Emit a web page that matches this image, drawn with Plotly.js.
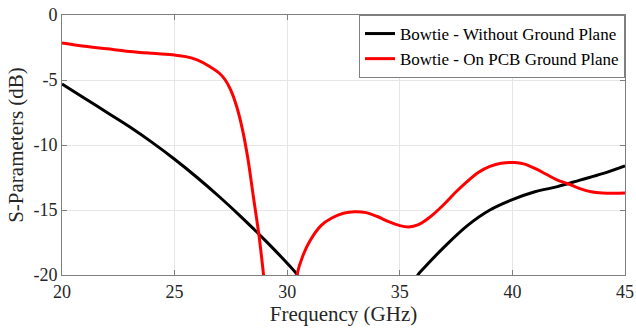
<!DOCTYPE html>
<html>
<head>
<meta charset="utf-8">
<script src="https://cdn.plot.ly/plotly-3.0.1.min.js"></script>
<style>
html,body{margin:0;padding:0;background:#fff;}
#chart{width:636px;height:329px;}
</style>
</head>
<body>
<div id="chart"></div>
<script>
// Bowtie - Without Ground Plane
const freqBlack = [20, 21, 22, 23, 24, 25, 26, 27, 28, 29, 30, 30.45, 31, 32, 33, 34, 35, 35.8, 36, 37, 38, 39, 40, 41, 42, 43, 44, 45];
const s11Black  = [-5.3, -6.4, -7.5, -8.6, -9.8, -11.1, -12.5, -14.0, -15.6, -17.3, -19.1, -20, -22, -27, -32, -28, -23, -20, -19.6, -17.8, -16.2, -15.0, -14.2, -13.6, -13.2, -12.7, -12.2, -11.6];

// Bowtie - On PCB Ground Plane
const freqRed = [20, 21, 22, 23, 24, 25, 25.5, 26, 26.5, 27, 27.25, 27.5, 27.75, 28, 28.25, 28.5, 28.75, 28.95, 29.3, 29.7, 30.1, 30.43, 30.7, 31, 31.5, 32, 32.5, 33, 33.5, 34, 34.5, 35, 35.4, 35.8, 36.3, 37, 37.5, 38, 38.5, 39, 39.5, 40.1, 40.5, 41, 41.5, 42, 42.5, 43, 43.5, 44, 44.5, 45];
const s11Red  = [-2.15, -2.4, -2.6, -2.8, -2.95, -3.08, -3.2, -3.45, -3.9, -4.5, -5.0, -5.8, -7.0, -8.7, -11.0, -14.0, -17.0, -20, -26, -30, -25, -20, -18.5, -17.4, -16.2, -15.6, -15.25, -15.13, -15.2, -15.5, -15.9, -16.2, -16.3, -16.15, -15.6, -14.5, -13.6, -12.8, -12.1, -11.65, -11.4, -11.35, -11.45, -11.8, -12.25, -12.7, -13.0, -13.35, -13.6, -13.7, -13.72, -13.7];

const seriesNames = ['Bowtie - Without Ground Plane', 'Bowtie - On PCB Ground Plane'];
const xTicks = [20, 25, 30, 35, 40, 45];
const yTicks = [-20, -15, -10, -5, 0];

const FONT_FAMILY = 'Liberation Serif';

const traces = [
  {x: freqBlack, y: s11Black, name: seriesNames[0], mode: 'lines', line: {color: '#000000', width: 3, shape: 'spline', smoothing: 1}},
  {x: freqRed, y: s11Red, name: seriesNames[1], mode: 'lines', line: {color: '#ff0000', width: 3, shape: 'spline', smoothing: 1}}
];

const axisCommon = {
  showline: true, mirror: 'ticks', linecolor: '#7f7f7f', linewidth: 1,
  ticks: 'inside', ticklen: 5, tickcolor: '#7f7f7f',
  showgrid: true, gridcolor: '#e6e6e6', gridwidth: 1,
  zeroline: false,
  tickfont: {family: FONT_FAMILY, size: 18, color: '#262626'}
};

const layout = {
  width: 636, height: 329,
  margin: {l: 62, r: 11, t: 15, b: 54},
  paper_bgcolor: '#ffffff', plot_bgcolor: '#ffffff',
  font: {family: FONT_FAMILY, size: 18},
  showlegend: true,
  legend: {
    x: 1, y: 1, xanchor: 'right', yanchor: 'top',
    bgcolor: '#ffffff', bordercolor: '#7f7f7f', borderwidth: 1,
    font: {family: FONT_FAMILY, size: 17, color: '#000000'},
    tracegroupgap: 0, itemwidth: 30
  },
  xaxis: Object.assign({}, axisCommon, {
    range: [20, 45], tickvals: xTicks, ticktext: xTicks.map(String),
    title: {text: 'Frequency (GHz)', font: {family: FONT_FAMILY, size: 21, color: '#262626'}, standoff: 4}
  }),
  yaxis: Object.assign({}, axisCommon, {
    range: [-20, 0], tickvals: yTicks, ticktext: yTicks.map(String),
    title: {text: 'S-Parameters (dB)', font: {family: FONT_FAMILY, size: 21, color: '#262626'}, standoff: 4}
  })
};

Plotly.newPlot('chart', traces, layout, {displayModeBar: false, staticPlot: true});
</script>
</body>
</html>
